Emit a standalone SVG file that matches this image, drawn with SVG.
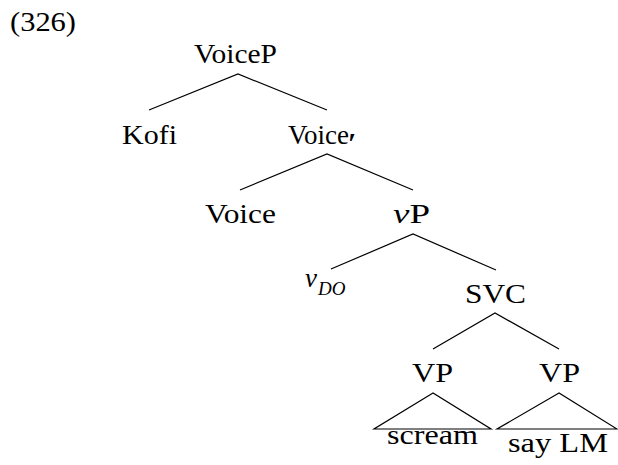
<svg xmlns="http://www.w3.org/2000/svg" width="618" height="465" viewBox="0 0 618 465">
<defs>
<style>
polyline,polygon{stroke:#000;stroke-width:1.2;fill:none}
</style>
</defs>
<rect width="618" height="465" fill="#fff"/>
<text x="10" y="31" textLength="66" lengthAdjust="spacingAndGlyphs" style="font-family:'Liberation Serif',serif;font-size:27px">(326)</text>
<g id="connectors">
<polyline points="149,110 238,74 327,110"/>
<polyline points="240,190 327,154 413,190"/>
<polyline points="331,269 413,234 496,270"/>
<polyline points="433,349 495,313 559,349"/>
<polygon points="433,393 374,429 491,429"/>
<polygon points="559,393 497,429 617,429"/>
</g>
<g id="VoiceP"><text x="194" y="63" textLength="83" lengthAdjust="spacingAndGlyphs" style="font-family:'Liberation Serif',serif;font-size:27px">VoiceP</text></g>
<g id="Kofi"><text x="122" y="144" textLength="55" lengthAdjust="spacingAndGlyphs" style="font-family:'Liberation Serif',serif;font-size:27px">Kofi</text></g>
<g id="VoiceBar"><text x="288" y="144" style="font-family:'Liberation Serif',serif;font-size:27px">Voice<tspan dx="-1" dy="9" style="font-weight:bold;font-size:30px">′</tspan></text></g>
<g id="Voice"><text x="205" y="223" textLength="71" lengthAdjust="spacingAndGlyphs" style="font-family:'Liberation Serif',serif;font-size:27px">Voice</text></g>
<g id="vP"><text x="393" y="223" textLength="37" lengthAdjust="spacingAndGlyphs" style="font-family:'Liberation Serif',serif;font-size:27px"><tspan style="font-style:italic">v</tspan>P</text></g>
<g id="vDO"><text x="305" y="287" style="font-family:'Liberation Serif',serif;font-size:27px"><tspan style="font-style:italic">v</tspan><tspan dx="1" dy="8" style="font-style:italic;font-size:19px">DO</tspan></text></g>
<g id="SVC"><text x="465" y="303" textLength="61" lengthAdjust="spacingAndGlyphs" style="font-family:'Liberation Serif',serif;font-size:27px">SVC</text></g>
<g id="VP1"><text x="412" y="382" textLength="41" lengthAdjust="spacingAndGlyphs" style="font-family:'Liberation Serif',serif;font-size:27px">VP</text></g>
<g id="VP2"><text x="539" y="382" textLength="41" lengthAdjust="spacingAndGlyphs" style="font-family:'Liberation Serif',serif;font-size:27px">VP</text></g>
<g id="scream"><text x="387" y="444" textLength="91" lengthAdjust="spacingAndGlyphs" style="font-family:'Liberation Serif',serif;font-size:27px">scream</text></g>
<g id="sayLM"><text x="508" y="452" textLength="100" lengthAdjust="spacingAndGlyphs" style="font-family:'Liberation Serif',serif;font-size:27px">say LM</text></g>
</svg>
